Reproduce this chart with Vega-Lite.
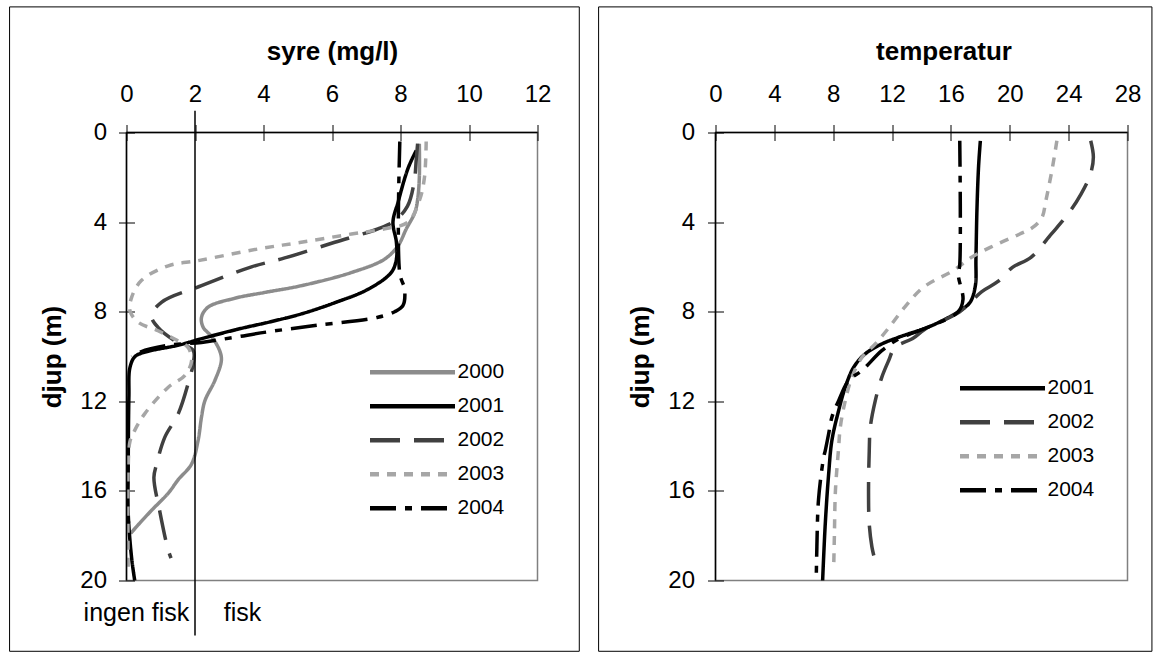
{
  "$schema": "https://vega.github.io/schema/vega-lite/v6.json",
  "background": "white",
  "padding": {"left": 7.5, "top": 5.5, "right": 5, "bottom": 0},
  "config": {
    "font": "Liberation Sans",
    "view": {"stroke": "#808080", "strokeWidth": 1.5},
    "concat": {"spacing": 15},
    "axis": {
      "labelFont": "Liberation Sans", "labelFontSize": 24, "labelColor": "black", "labelFlush": false, "labelOverlap": false,
      "titleFont": "Liberation Sans", "titleFontSize": 26, "titleFontWeight": "bold", "titleColor": "black",
      "tickColor": "black", "tickWidth": 1, "grid": false, "domain": false, "tickSize": 16, "offset": -8
    },
    "legend": {
      "labelFont": "Liberation Sans", "labelFontSize": 21, "labelColor": "black",
      "symbolType": "stroke", "symbolSize": 7225, "symbolStrokeWidth": 4.5,
      "clipHeight": 33.5, "rowPadding": 0, "labelOffset": 0, "padding": 0, "title": null
    }
  },
  "datasets": {
    "one": [{}],
    "syre": [
      {"year":"2000","depth":0.5,"value":8.55},{"year":"2000","depth":2.0,"value":8.55},{"year":"2000","depth":3.0,"value":8.5},{"year":"2000","depth":3.57,"value":8.42},{"year":"2000","depth":4.3,"value":8.17},{"year":"2000","depth":5.05,"value":7.93},{"year":"2000","depth":5.65,"value":7.54},{"year":"2000","depth":6.25,"value":6.57},{"year":"2000","depth":6.84,"value":5.1},{"year":"2000","depth":7.15,"value":4.0},{"year":"2000","depth":7.4,"value":3.16},{"year":"2000","depth":7.8,"value":2.38},{"year":"2000","depth":8.25,"value":2.19},{"year":"2000","depth":8.7,"value":2.24},{"year":"2000","depth":9.1,"value":2.48},{"year":"2000","depth":9.74,"value":2.72},{"year":"2000","depth":10.18,"value":2.77},{"year":"2000","depth":11.07,"value":2.58},{"year":"2000","depth":11.97,"value":2.29},{"year":"2000","depth":12.7,"value":2.19},{"year":"2000","depth":13.75,"value":2.09},{"year":"2000","depth":14.8,"value":1.9},{"year":"2000","depth":15.5,"value":1.51},{"year":"2000","depth":16.1,"value":1.22},{"year":"2000","depth":16.87,"value":0.73},{"year":"2000","depth":17.5,"value":0.35},{"year":"2000","depth":17.9,"value":0.12},
      {"year":"2001","depth":0.8,"value":8.46},{"year":"2001","depth":1.6,"value":8.22},{"year":"2001","depth":3.1,"value":7.93},{"year":"2001","depth":4.0,"value":7.78},{"year":"2001","depth":4.9,"value":7.88},{"year":"2001","depth":5.65,"value":7.88},{"year":"2001","depth":6.25,"value":7.73},{"year":"2001","depth":7.0,"value":7.05},{"year":"2001","depth":7.6,"value":6.08},{"year":"2001","depth":8.1,"value":5.1},{"year":"2001","depth":8.45,"value":4.2},{"year":"2001","depth":8.8,"value":3.2},{"year":"2001","depth":9.2,"value":2.2},{"year":"2001","depth":9.5,"value":1.5},{"year":"2001","depth":9.78,"value":0.6},{"year":"2001","depth":10.0,"value":0.25},{"year":"2001","depth":10.5,"value":0.1},{"year":"2001","depth":11.8,"value":0.07},{"year":"2001","depth":15.0,"value":0.05},{"year":"2001","depth":17.0,"value":0.05},{"year":"2001","depth":19.0,"value":0.15},{"year":"2001","depth":20.0,"value":0.24},
      {"year":"2002","depth":0.5,"value":8.5},{"year":"2002","depth":1.2,"value":8.46},{"year":"2002","depth":2.2,"value":8.4},{"year":"2002","depth":3.3,"value":8.2},{"year":"2002","depth":3.94,"value":7.83},{"year":"2002","depth":4.3,"value":7.34},{"year":"2002","depth":4.9,"value":6.08},{"year":"2002","depth":5.6,"value":4.62},{"year":"2002","depth":6.0,"value":3.65},{"year":"2002","depth":6.84,"value":2.19},{"year":"2002","depth":7.58,"value":1.02},{"year":"2002","depth":8.18,"value":0.73},{"year":"2002","depth":8.7,"value":0.92},{"year":"2002","depth":9.3,"value":1.41},{"year":"2002","depth":9.74,"value":1.95},{"year":"2002","depth":10.3,"value":1.95},{"year":"2002","depth":10.93,"value":1.85},{"year":"2002","depth":12.56,"value":1.51},{"year":"2002","depth":13.6,"value":1.12},{"year":"2002","depth":14.8,"value":0.88},{"year":"2002","depth":15.4,"value":0.8},{"year":"2002","depth":16.9,"value":0.97},{"year":"2002","depth":18.6,"value":1.21},{"year":"2002","depth":19.0,"value":1.3},
      {"year":"2003","depth":0.4,"value":8.75},{"year":"2003","depth":2.0,"value":8.7},{"year":"2003","depth":3.0,"value":8.56},{"year":"2003","depth":4.0,"value":8.22},{"year":"2003","depth":4.3,"value":7.54},{"year":"2003","depth":4.53,"value":6.57},{"year":"2003","depth":4.9,"value":5.1},{"year":"2003","depth":5.2,"value":3.84},{"year":"2003","depth":5.72,"value":2.09},{"year":"2003","depth":5.95,"value":1.22},{"year":"2003","depth":6.6,"value":0.44},{"year":"2003","depth":7.36,"value":0.15},{"year":"2003","depth":7.95,"value":0.1},{"year":"2003","depth":8.47,"value":0.34},{"year":"2003","depth":8.85,"value":0.92},{"year":"2003","depth":9.3,"value":1.5},{"year":"2003","depth":9.6,"value":1.8},{"year":"2003","depth":10.2,"value":1.9},{"year":"2003","depth":10.85,"value":1.7},{"year":"2003","depth":11.37,"value":1.22},{"year":"2003","depth":12.56,"value":0.53},{"year":"2003","depth":13.3,"value":0.24},{"year":"2003","depth":13.8,"value":0.1},{"year":"2003","depth":15.0,"value":0.05},{"year":"2003","depth":19.6,"value":0.05},
      {"year":"2004","depth":0.4,"value":7.98},{"year":"2004","depth":6.3,"value":7.98},{"year":"2004","depth":7.0,"value":8.12},{"year":"2004","depth":7.73,"value":8.07},{"year":"2004","depth":8.0,"value":7.83},{"year":"2004","depth":8.25,"value":7.34},{"year":"2004","depth":8.6,"value":5.6},{"year":"2004","depth":8.9,"value":4.13},{"year":"2004","depth":9.14,"value":3.16},{"year":"2004","depth":9.37,"value":2.19},{"year":"2004","depth":9.5,"value":1.22},{"year":"2004","depth":9.8,"value":0.4},{"year":"2004","depth":10.0,"value":0.15}
    ],
    "temp": [
      {"year":"2001","depth":0.37,"value":18.0},{"year":"2001","depth":1.5,"value":17.88},{"year":"2001","depth":3.4,"value":17.77},{"year":"2001","depth":5.65,"value":17.7},{"year":"2001","depth":6.84,"value":17.66},{"year":"2001","depth":7.58,"value":17.3},{"year":"2001","depth":8.0,"value":16.5},{"year":"2001","depth":8.62,"value":14.7},{"year":"2001","depth":9.14,"value":12.45},{"year":"2001","depth":9.44,"value":11.3},{"year":"2001","depth":9.88,"value":10.18},{"year":"2001","depth":10.48,"value":9.39},{"year":"2001","depth":11.37,"value":8.82},{"year":"2001","depth":12.41,"value":8.37},{"year":"2001","depth":13.75,"value":7.91},{"year":"2001","depth":15.24,"value":7.69},{"year":"2001","depth":17.47,"value":7.46},{"year":"2001","depth":20.0,"value":7.28},
      {"year":"2002","depth":0.37,"value":25.5},{"year":"2002","depth":1.1,"value":25.68},{"year":"2002","depth":1.86,"value":25.48},{"year":"2002","depth":2.75,"value":24.84},{"year":"2002","depth":3.64,"value":23.96},{"year":"2002","depth":4.53,"value":22.83},{"year":"2002","depth":5.57,"value":21.44},{"year":"2002","depth":6.02,"value":20.18},{"year":"2002","depth":6.65,"value":19.2},{"year":"2002","depth":7.1,"value":18.1},{"year":"2002","depth":8.0,"value":16.6},{"year":"2002","depth":8.77,"value":14.26},{"year":"2002","depth":9.2,"value":13.4},{"year":"2002","depth":9.59,"value":12.2},{"year":"2002","depth":10.18,"value":11.77},{"year":"2002","depth":10.93,"value":11.3},{"year":"2002","depth":11.97,"value":10.86},{"year":"2002","depth":13.16,"value":10.52},{"year":"2002","depth":14.2,"value":10.45},{"year":"2002","depth":16.0,"value":10.4},{"year":"2002","depth":17.5,"value":10.45},{"year":"2002","depth":18.5,"value":10.63},{"year":"2002","depth":19.0,"value":10.8},
      {"year":"2003","depth":0.37,"value":23.2},{"year":"2003","depth":1.56,"value":22.9},{"year":"2003","depth":3.05,"value":22.45},{"year":"2003","depth":3.79,"value":22.19},{"year":"2003","depth":4.24,"value":21.56},{"year":"2003","depth":4.53,"value":20.68},{"year":"2003","depth":5.13,"value":18.67},{"year":"2003","depth":5.57,"value":17.4},{"year":"2003","depth":6.17,"value":16.14},{"year":"2003","depth":6.91,"value":14.13},{"year":"2003","depth":7.8,"value":12.86},{"year":"2003","depth":8.7,"value":11.8},{"year":"2003","depth":9.44,"value":10.86},{"year":"2003","depth":10.04,"value":9.95},{"year":"2003","depth":10.93,"value":9.27},{"year":"2003","depth":11.97,"value":8.82},{"year":"2003","depth":13.16,"value":8.48},{"year":"2003","depth":14.05,"value":8.37},{"year":"2003","depth":16.0,"value":8.15},{"year":"2003","depth":18.0,"value":8.08},{"year":"2003","depth":19.5,"value":8.03},
      {"year":"2004","depth":0.37,"value":16.6},{"year":"2004","depth":5.9,"value":16.6},{"year":"2004","depth":6.35,"value":16.5},{"year":"2004","depth":7.45,"value":16.82},{"year":"2004","depth":8.0,"value":16.5},{"year":"2004","depth":8.65,"value":14.6},{"year":"2004","depth":9.2,"value":12.5},{"year":"2004","depth":9.74,"value":11.3},{"year":"2004","depth":10.63,"value":9.95},{"year":"2004","depth":11.07,"value":9.05},{"year":"2004","depth":11.97,"value":8.37},{"year":"2004","depth":12.71,"value":7.91},{"year":"2004","depth":13.45,"value":7.69},{"year":"2004","depth":14.2,"value":7.46},{"year":"2004","depth":14.5,"value":7.35},{"year":"2004","depth":16.4,"value":7.0},{"year":"2004","depth":18.5,"value":6.89},{"year":"2004","depth":19.8,"value":6.85}
    ]
  },
  "hconcat": [
    {
      "width": 411,
      "height": 448,
      "layer": [
        {
          "data": {"name": "one"},
          "mark": {"type": "rect", "fill": "transparent", "stroke": "black", "strokeWidth": 1, "clip": false},
          "encoding": {
            "x": {"datum": -3.414, "type": "quantitative", "scale": {"domain": [0, 12], "nice": false, "zero": false}},
            "x2": {"datum": 13.22},
            "y": {"datum": -5.607, "type": "quantitative", "scale": {"domain": [0, 20], "nice": false, "reverse": true}},
            "y2": {"datum": 23.16}
          }
        },
        {
          "data": {"name": "syre"},
          "mark": {"type": "line", "strokeWidth": 3.5, "interpolate": "catmull-rom"},
          "encoding": {
            "x": {"field": "value", "type": "quantitative", "scale": {"domain": [0, 12], "nice": false, "zero": false},
                  "axis": {"orient": "top", "title": "syre (mg/l)", "values": [0, 2, 4, 6, 8, 10, 12], "labelPadding": 18, "titlePadding": 18}},
            "y": {"field": "depth", "type": "quantitative", "scale": {"domain": [0, 20], "nice": false, "reverse": true},
                  "axis": {"orient": "left", "title": "djup (m)", "values": [0, 4, 8, 12, 16, 20], "labelPadding": 12, "titlePadding": 14}},
            "order": {"field": "depth"},
            "color": {"field": "year", "type": "nominal",
                      "scale": {"domain": ["2000", "2001", "2002", "2003", "2004"], "range": ["#8c8c8c", "#000000", "#404040", "#a6a6a6", "#000000"]},
                      "legend": {"orient": "none", "legendX": 241, "legendY": 223}},
            "strokeDash": {"field": "year", "type": "nominal",
                      "scale": {"domain": ["2000", "2001", "2002", "2003", "2004"], "range": [[1, 0], [1, 0], [30, 14], [9, 8], [26, 9, 7, 9]]},
                      "legend": {"orient": "none", "legendX": 241, "legendY": 223}}
          }
        },
        {
          "data": {"name": "one"},
          "mark": {"type": "rule", "color": "black", "strokeWidth": 1.5},
          "encoding": {"y": {"datum": 0}}
        },
        {
          "data": {"name": "one"},
          "mark": {"type": "rule", "color": "black", "strokeWidth": 1.5},
          "encoding": {"x": {"datum": 0}}
        },
        {
          "data": {"name": "one"},
          "mark": {"type": "rule", "color": "black", "strokeWidth": 1.5, "clip": false},
          "encoding": {"x": {"datum": 2}, "y": {"datum": -0.97}, "y2": {"datum": 22.45}}
        },
        {
          "data": {"name": "one"},
          "mark": {"type": "text", "fontSize": 25, "font": "Liberation Sans", "color": "black", "align": "center", "baseline": "middle", "clip": false},
          "encoding": {"x": {"datum": 0.29}, "y": {"datum": 21.47}, "text": {"value": "ingen fisk"}}
        },
        {
          "data": {"name": "one"},
          "mark": {"type": "text", "fontSize": 25, "font": "Liberation Sans", "color": "black", "align": "center", "baseline": "middle", "clip": false},
          "encoding": {"x": {"datum": 3.39}, "y": {"datum": 21.47}, "text": {"value": "fisk"}}
        }
      ]
    },
    {
      "width": 412,
      "height": 448,
      "layer": [
        {
          "data": {"name": "one"},
          "mark": {"type": "rect", "fill": "transparent", "stroke": "black", "strokeWidth": 1, "clip": false},
          "encoding": {
            "x": {"datum": -7.945, "type": "quantitative", "scale": {"domain": [0, 28], "nice": false, "zero": false}},
            "x2": {"datum": 29.66},
            "y": {"datum": -5.607, "type": "quantitative", "scale": {"domain": [0, 20], "nice": false, "reverse": true}},
            "y2": {"datum": 23.16}
          }
        },
        {
          "data": {"name": "temp"},
          "mark": {"type": "line", "strokeWidth": 3.5, "interpolate": "catmull-rom"},
          "encoding": {
            "x": {"field": "value", "type": "quantitative", "scale": {"domain": [0, 28], "nice": false, "zero": false},
                  "axis": {"orient": "top", "title": "temperatur", "values": [0, 4, 8, 12, 16, 20, 24, 28], "labelPadding": 18, "titlePadding": 18, "titleX": 228}},
            "y": {"field": "depth", "type": "quantitative", "scale": {"domain": [0, 20], "nice": false, "reverse": true},
                  "axis": {"orient": "left", "title": "djup (m)", "values": [0, 4, 8, 12, 16, 20], "labelPadding": 13, "titlePadding": 14}},
            "order": {"field": "depth"},
            "color": {"field": "year", "type": "nominal",
                      "scale": {"domain": ["2001", "2002", "2003", "2004"], "range": ["#000000", "#404040", "#a6a6a6", "#000000"]},
                      "legend": {"orient": "none", "legendX": 242, "legendY": 239}},
            "strokeDash": {"field": "year", "type": "nominal",
                      "scale": {"domain": ["2001", "2002", "2003", "2004"], "range": [[1, 0], [30, 14], [9, 8], [26, 9, 7, 9]]},
                      "legend": {"orient": "none", "legendX": 242, "legendY": 239}}
          }
        },
        {
          "data": {"name": "one"},
          "mark": {"type": "rule", "color": "black", "strokeWidth": 1.5},
          "encoding": {"y": {"datum": 0}}
        },
        {
          "data": {"name": "one"},
          "mark": {"type": "rule", "color": "black", "strokeWidth": 1.5},
          "encoding": {"x": {"datum": 0}}
        }
      ]
    }
  ],
  "resolve": {"scale": {"color": "independent", "strokeDash": "independent", "x": "independent", "y": "independent"}}
}
